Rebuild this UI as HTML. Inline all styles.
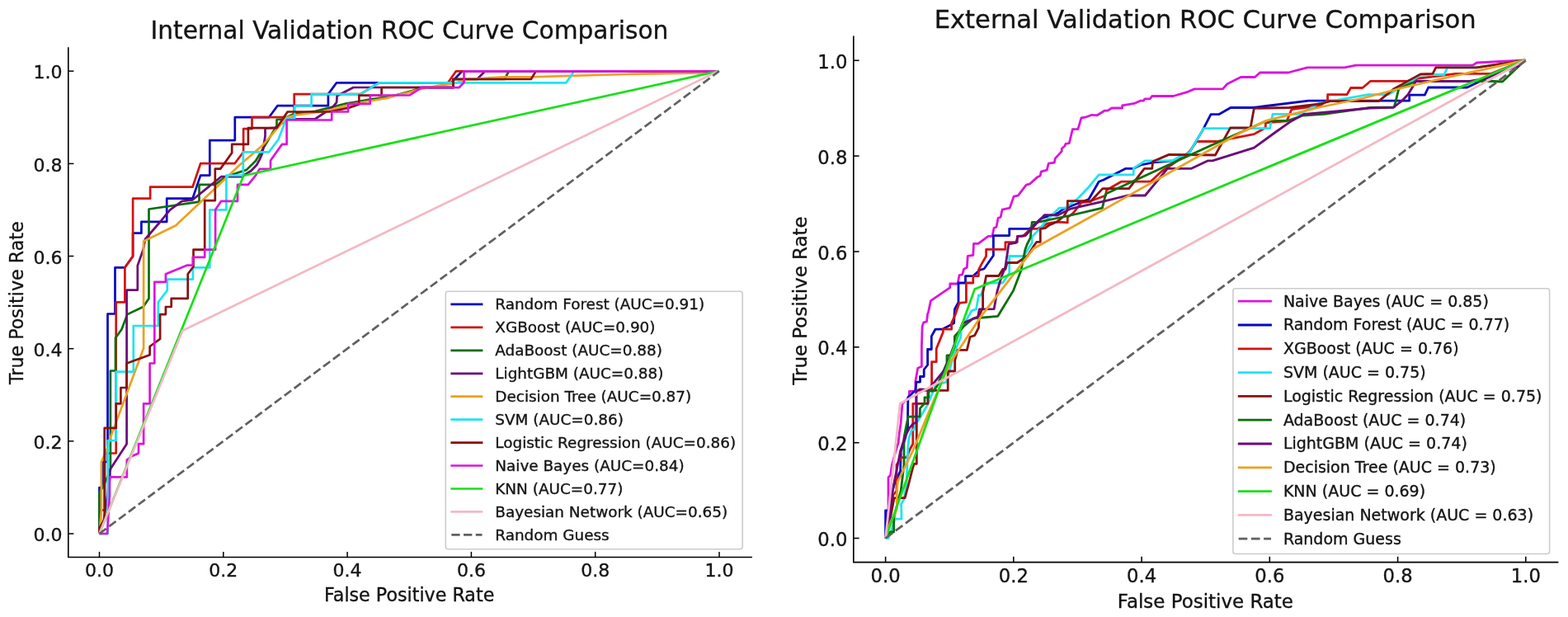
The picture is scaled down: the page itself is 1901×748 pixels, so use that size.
<!DOCTYPE html>
<html><head><meta charset="utf-8"><title>ROC Curve Comparison</title>
<style>html,body{margin:0;padding:0;background:#fff;overflow:hidden}svg{display:block}
text{font-family:"DejaVu Sans","Liberation Sans",sans-serif;fill:#141414;stroke:#141414;stroke-width:0.35px}</style></head>
<body><svg width="1901" height="748" viewBox="0 0 1901 748">
<rect width="1901" height="748" fill="#fff"/>
<path d="M120.5 647.0 L120.5 591.0 L124.5 591.0 L124.5 560.0 L130.5 560.0 L130.5 380.5 L139.5 380.5 L139.5 324.3 L151.4 324.3 L161.1 310.7 L161.1 282.7 L171.4 282.7 L171.4 268.8 L202.2 268.8 L202.2 240.7 L233.5 240.7 L243.1 212.6 L254.3 212.6 L254.3 170.1 L284.8 170.1 L284.8 142.2 L326.1 142.2 L336.4 128.2 L397.9 128.2 L397.9 114.1 L408.1 100.3 L547.0 100.3 L560.2 86.4 L870.5 86.4" fill="none" stroke="#0606c4" stroke-width="2.70" stroke-linejoin="round" stroke-linecap="butt"/>
<path d="M120.5 647.0 L122.0 647.0 L122.0 618.5 L127.0 618.5 L127.0 549.5 L140.7 549.5 L140.7 366.4 L151.4 366.4 L151.4 324.3 L161.1 310.7 L161.1 240.7 L182.1 240.7 L182.1 226.7 L233.5 226.7 L243.1 198.2 L284.5 198.2 L295.1 184.3 L295.1 156.2 L305.5 156.2 L305.5 142.2 L343.9 142.2 L356.7 142.2 L356.7 114.1 L437.0 114.1 L459.4 100.3 L543.1 100.3 L552.7 86.4 L870.5 86.4" fill="none" stroke="#d41212" stroke-width="2.70" stroke-linejoin="round" stroke-linecap="butt"/>
<path d="M120.5 647.0 L120.5 596.8 L124.5 591.0 L133.9 570.0 L133.9 449.5 L140.0 449.5 L140.0 409.8 L147.5 399.3 L154.3 381.1 L173.6 372.0 L180.5 361.8 L180.5 253.5 L241.5 244.7 L241.5 223.8 L260.8 223.8 L273.6 214.2 L298.9 205.9 L310.0 195.0 L335.5 152.5 L335.5 145.0 L343.0 144.5 L356.8 137.7 L382.4 134.9 L420.3 125.3 L434.8 123.0 L448.1 120.5 L469.5 117.5 L480.0 115.2 L500.0 110.0 L511.0 106.2 L549.5 106.2 L549.5 96.0 L611.6 96.0 L617.0 86.4 L870.5 86.4" fill="none" stroke="#0a6e0a" stroke-width="2.70" stroke-linejoin="round" stroke-linecap="butt"/>
<path d="M120.5 647.0 L126.0 630.0 L133.4 577.6 L133.4 569.3 L153.6 538.2 L153.6 351.6 L166.8 351.6 L166.8 322.0 L173.6 302.7 L176.0 290.0 L193.3 270.0 L206.2 254.3 L220.6 243.9 L233.5 242.3 L246.3 231.9 L268.0 214.2 L292.9 214.2 L304.5 207.0 L311.2 200.0 L314.8 193.4 L318.2 185.5 L321.5 165.0 L321.5 155.5 L334.1 154.8 L348.9 144.5 L382.4 144.0 L402.7 130.6 L408.1 124.2 L408.6 116.2 L428.4 106.0 L549.5 106.0 L549.5 96.0 L578.4 96.0 L588.0 86.4 L870.5 86.4" fill="none" stroke="#6a0a78" stroke-width="2.70" stroke-linejoin="round" stroke-linecap="butt"/>
<path d="M120.5 647.0 L122.9 620.0 L122.9 560.0 L130.4 542.7 L132.7 533.6 L174.1 422.3 L174.1 292.5 L213.4 273.2 L216.6 270.0 L246.4 242.0 L290.6 200.0 L318.2 176.4 L347.7 142.3 L358.9 139.5 L394.2 134.9 L426.3 126.4 L448.1 122.5 L469.5 118.9 L480.2 115.6 L495.3 112.2 L507.9 108.4 L530.0 104.0 L548.9 101.5 L565.0 97.0 L590.0 94.5 L610.0 93.3 L649.7 93.1 L760.0 90.0 L855.0 88.4 L870.5 86.4" fill="none" stroke="#eea020" stroke-width="2.70" stroke-linejoin="round" stroke-linecap="butt"/>
<path d="M120.5 647.0 L130.7 647.0 L130.7 534.0 L140.7 534.0 L140.7 450.7 L161.8 450.7 L161.8 395.0 L191.8 395.0 L191.8 366.4 L202.8 352.0 L202.8 338.6 L233.9 338.6 L233.9 324.3 L254.3 324.3 L254.3 254.3 L274.4 254.3 L274.4 212.6 L294.8 212.6 L294.8 184.3 L326.1 184.3 L337.4 169.3 L347.6 143.1 L357.3 143.1 L357.3 128.5 L377.6 128.5 L377.6 114.1 L437.0 114.1 L459.4 100.3 L686.5 100.3 L695.8 86.4 L870.5 86.4" fill="none" stroke="#20e4f0" stroke-width="2.70" stroke-linejoin="round" stroke-linecap="butt"/>
<path d="M120.5 647.0 L120.5 640.0 L126.7 630.0 L126.7 518.9 L140.7 518.9 L140.7 489.3 L146.4 489.3 L146.4 470.0 L153.6 470.0 L153.6 440.5 L181.6 430.2 L181.6 420.0 L194.1 410.9 L194.1 381.1 L200.9 381.1 L200.9 372.0 L207.7 372.0 L207.7 361.8 L227.7 361.8 L227.7 332.3 L234.5 323.2 L234.5 302.7 L248.2 302.7 L248.2 243.1 L260.8 243.1 L260.8 204.6 L267.2 204.6 L271.9 198.3 L281.2 185.2 L281.2 174.9 L300.9 174.9 L300.9 155.2 L335.5 155.1 L348.6 135.5 L399.5 135.5 L423.0 130.6 L435.3 126.4 L435.3 115.7 L462.6 115.7 L462.6 106.0 L549.5 106.0 L549.5 96.0 L643.8 96.0 L649.7 86.4 L870.5 86.4" fill="none" stroke="#8a1010" stroke-width="2.70" stroke-linejoin="round" stroke-linecap="butt"/>
<path d="M120.5 647.0 L130.0 647.0 L133.0 600.0 L133.0 578.4 L153.8 578.4 L153.8 557.6 L160.0 553.0 L168.0 549.5 L168.0 538.2 L174.1 538.2 L174.1 489.3 L181.6 489.3 L181.6 440.5 L187.3 440.5 L187.3 341.8 L200.9 341.8 L200.9 332.3 L227.1 321.6 L233.7 321.6 L233.7 311.8 L248.2 311.8 L248.2 302.7 L261.1 302.7 L261.1 254.3 L268.0 243.9 L288.0 243.9 L288.0 223.8 L300.9 223.8 L310.0 212.6 L314.8 204.8 L328.0 204.8 L328.0 194.5 L342.0 174.9 L347.6 174.9 L347.6 145.5 L402.2 145.5 L402.2 135.5 L422.0 135.5 L422.0 125.8 L448.7 125.8 L448.7 115.5 L496.6 115.3 L511.0 106.2 L556.5 106.2 L562.5 100.0 L562.5 86.4 L870.5 86.4" fill="none" stroke="#dc14dc" stroke-width="2.70" stroke-linejoin="round" stroke-linecap="butt"/>
<path d="M120.5 647.0 L295.3 213.0 L870.5 86.4" fill="none" stroke="#18e018" stroke-width="2.70" stroke-linejoin="round" stroke-linecap="butt"/>
<path d="M120.5 647.0 L221.4 400.7 L870.5 86.4" fill="none" stroke="#f4b8c4" stroke-width="2.70" stroke-linejoin="round" stroke-linecap="butt"/>
<line x1="120.5" y1="647.0" x2="872.0" y2="86.2" stroke="#606060" stroke-width="2.70" stroke-dasharray="10.28 4.45"/>
<rect x="540.3" y="353.2" width="359.9" height="312.5" rx="3" ry="3" fill="#fff" fill-opacity="0.8" stroke="#cccccc" stroke-width="1.6"/>
<line x1="546.4" y1="368.9" x2="585.4" y2="368.9" stroke="#0606c4" stroke-width="2.70" stroke-linecap="butt"/>
<text x="600.3" y="375.1" font-size="18.40">Random Forest (AUC=0.91)</text>
<line x1="546.4" y1="396.8" x2="585.4" y2="396.8" stroke="#d41212" stroke-width="2.70" stroke-linecap="butt"/>
<text x="600.3" y="403.0" font-size="18.40">XGBoost (AUC=0.90)</text>
<line x1="546.4" y1="424.8" x2="585.4" y2="424.8" stroke="#0a6e0a" stroke-width="2.70" stroke-linecap="butt"/>
<text x="600.3" y="431.0" font-size="18.40">AdaBoost (AUC=0.88)</text>
<line x1="546.4" y1="452.8" x2="585.4" y2="452.8" stroke="#6a0a78" stroke-width="2.70" stroke-linecap="butt"/>
<text x="600.3" y="458.9" font-size="18.40">LightGBM (AUC=0.88)</text>
<line x1="546.4" y1="480.7" x2="585.4" y2="480.7" stroke="#eea020" stroke-width="2.70" stroke-linecap="butt"/>
<text x="600.3" y="486.9" font-size="18.40">Decision Tree (AUC=0.87)</text>
<line x1="546.4" y1="508.6" x2="585.4" y2="508.6" stroke="#20e4f0" stroke-width="2.70" stroke-linecap="butt"/>
<text x="600.3" y="514.9" font-size="18.40">SVM (AUC=0.86)</text>
<line x1="546.4" y1="536.6" x2="585.4" y2="536.6" stroke="#8a1010" stroke-width="2.70" stroke-linecap="butt"/>
<text x="600.3" y="542.8" font-size="18.40">Logistic Regression (AUC=0.86)</text>
<line x1="546.4" y1="564.5" x2="585.4" y2="564.5" stroke="#dc14dc" stroke-width="2.70" stroke-linecap="butt"/>
<text x="600.3" y="570.8" font-size="18.40">Naive Bayes (AUC=0.84)</text>
<line x1="546.4" y1="592.5" x2="585.4" y2="592.5" stroke="#18e018" stroke-width="2.70" stroke-linecap="butt"/>
<text x="600.3" y="598.7" font-size="18.40">KNN (AUC=0.77)</text>
<line x1="546.4" y1="620.4" x2="585.4" y2="620.4" stroke="#f4b8c4" stroke-width="2.70" stroke-linecap="butt"/>
<text x="600.3" y="626.6" font-size="18.40">Bayesian Network (AUC=0.65)</text>
<line x1="547.3" y1="648.4" x2="584.5" y2="648.4" stroke="#606060" stroke-width="2.70" stroke-dasharray="10.28 4.45"/>
<text x="600.3" y="654.6" font-size="18.40">Random Guess</text>
<path d="M82.8 58.0V675.5H911.1" fill="none" stroke="#000" stroke-width="1.60" stroke-linecap="square"/>
<line x1="120.5" y1="675.5" x2="120.5" y2="668.9" stroke="#000" stroke-width="1.50"/>
<line x1="82.8" y1="647.0" x2="89.4" y2="647.0" stroke="#000" stroke-width="1.50"/>
<text x="120.5" y="698.7" font-size="22.00" text-anchor="middle">0.0</text>
<text x="75.6" y="656.2" font-size="22.00" text-anchor="end">0.0</text>
<line x1="270.8" y1="675.5" x2="270.8" y2="668.9" stroke="#000" stroke-width="1.50"/>
<line x1="82.8" y1="534.8" x2="89.4" y2="534.8" stroke="#000" stroke-width="1.50"/>
<text x="270.8" y="698.7" font-size="22.00" text-anchor="middle">0.2</text>
<text x="75.6" y="544.0" font-size="22.00" text-anchor="end">0.2</text>
<line x1="421.1" y1="675.5" x2="421.1" y2="668.9" stroke="#000" stroke-width="1.50"/>
<line x1="82.8" y1="422.7" x2="89.4" y2="422.7" stroke="#000" stroke-width="1.50"/>
<text x="421.1" y="698.7" font-size="22.00" text-anchor="middle">0.4</text>
<text x="75.6" y="431.9" font-size="22.00" text-anchor="end">0.4</text>
<line x1="571.4" y1="675.5" x2="571.4" y2="668.9" stroke="#000" stroke-width="1.50"/>
<line x1="82.8" y1="310.5" x2="89.4" y2="310.5" stroke="#000" stroke-width="1.50"/>
<text x="571.4" y="698.7" font-size="22.00" text-anchor="middle">0.6</text>
<text x="75.6" y="319.7" font-size="22.00" text-anchor="end">0.6</text>
<line x1="721.7" y1="675.5" x2="721.7" y2="668.9" stroke="#000" stroke-width="1.50"/>
<line x1="82.8" y1="198.4" x2="89.4" y2="198.4" stroke="#000" stroke-width="1.50"/>
<text x="721.7" y="698.7" font-size="22.00" text-anchor="middle">0.8</text>
<text x="75.6" y="207.6" font-size="22.00" text-anchor="end">0.8</text>
<line x1="872.0" y1="675.5" x2="872.0" y2="668.9" stroke="#000" stroke-width="1.50"/>
<line x1="82.8" y1="86.2" x2="89.4" y2="86.2" stroke="#000" stroke-width="1.50"/>
<text x="872.0" y="698.7" font-size="22.00" text-anchor="middle">1.0</text>
<text x="75.6" y="95.4" font-size="22.00" text-anchor="end">1.0</text>
<text x="496.4" y="47.3" font-size="29.65" text-anchor="middle">Internal Validation ROC Curve Comparison</text>
<text x="496.2" y="728.6" font-size="22.20" text-anchor="middle">False Positive Rate</text>
<text transform="translate(27.6 367.2) rotate(-90)" font-size="22.20" text-anchor="middle">True Positive Rate</text>
<path d="M1073.6 652.5 L1075.0 640.0 L1077.0 615.0 L1077.0 578.8 L1079.5 576.2 L1081.4 563.5 L1085.0 550.0 L1089.1 536.8 L1090.3 525.4 L1092.2 512.7 L1092.9 502.5 L1094.0 489.3 L1102.0 482.0 L1102.4 474.3 L1109.9 474.3 L1109.9 462.1 L1112.7 446.2 L1117.4 444.3 L1117.4 420.0 L1118.1 395.4 L1119.9 390.8 L1123.5 389.8 L1124.6 380.5 L1125.5 378.6 L1128.4 364.6 L1151.8 348.7 L1151.8 344.0 L1161.1 344.0 L1163.0 333.7 L1166.7 332.8 L1168.6 326.2 L1172.3 324.3 L1173.3 310.3 L1179.8 309.4 L1180.5 295.3 L1186.0 295.3 L1198.1 286.3 L1203.0 286.3 L1205.1 276.3 L1208.0 275.3 L1210.1 264.3 L1213.1 263.3 L1215.1 254.2 L1224.1 252.2 L1229.1 238.2 L1234.2 237.2 L1244.2 224.2 L1248.2 223.2 L1257.2 215.1 L1261.2 213.1 L1262.2 208.1 L1269.2 206.1 L1271.3 198.1 L1278.3 197.1 L1279.3 192.1 L1287.2 183.4 L1287.2 180.2 L1290.9 177.0 L1292.0 174.3 L1296.3 173.7 L1300.4 156.7 L1306.9 156.7 L1310.9 143.0 L1315.7 142.2 L1323.7 139.3 L1330.1 139.8 L1339.0 134.2 L1343.0 134.2 L1347.8 131.0 L1360.6 131.0 L1360.6 127.8 L1375.1 125.4 L1382.3 122.2 L1386.3 122.2 L1387.9 119.8 L1394.3 119.8 L1396.7 116.5 L1422.4 116.5 L1440.0 111.3 L1448.2 107.9 L1482.4 107.9 L1487.9 101.7 L1504.3 93.5 L1521.4 93.5 L1527.6 88.0 L1561.8 88.0 L1585.0 81.9 L1630.1 81.9 L1643.8 79.2 L1785.2 79.2 L1790.5 76.0 L1849.3 72.8" fill="none" stroke="#dc14dc" stroke-width="2.79" stroke-linejoin="round" stroke-linecap="butt"/>
<path d="M1073.6 652.5 L1073.6 619.0 L1077.0 619.0 L1080.0 612.0 L1081.0 600.0 L1084.0 587.7 L1091.6 571.1 L1092.2 547.0 L1097.3 531.8 L1100.5 519.1 L1100.8 481.8 L1110.0 473.0 L1110.9 463.1 L1115.5 463.1 L1115.5 456.5 L1120.2 456.5 L1120.2 448.0 L1124.6 442.5 L1124.6 423.5 L1129.3 423.5 L1129.3 407.6 L1134.0 399.2 L1142.4 399.2 L1156.6 391.7 L1157.4 374.9 L1162.0 366.4 L1162.0 343.0 L1170.5 343.0 L1170.5 334.6 L1179.8 334.6 L1188.2 327.1 L1193.0 326.0 L1204.4 309.7 L1204.4 285.6 L1223.7 285.6 L1223.7 277.3 L1248.4 277.3 L1262.0 265.0 L1283.0 258.0 L1286.8 255.0 L1290.0 253.0 L1320.0 241.5 L1332.2 220.2 L1338.0 218.0 L1364.9 204.3 L1374.3 204.3 L1383.0 200.0 L1398.6 196.8 L1422.0 194.9 L1430.4 190.2 L1441.6 185.6 L1458.2 157.6 L1468.0 138.7 L1477.6 138.7 L1492.0 130.5 L1519.3 130.5 L1535.0 128.5 L1586.4 122.2 L1708.7 122.2 L1708.7 115.1 L1727.4 115.1 L1731.7 106.0 L1778.7 106.0 L1849.3 72.8" fill="none" stroke="#0606c4" stroke-width="2.79" stroke-linejoin="round" stroke-linecap="butt"/>
<path d="M1073.6 652.5 L1076.0 640.0 L1079.0 625.0 L1080.0 612.0 L1083.0 600.0 L1087.0 595.0 L1087.0 563.5 L1092.9 554.6 L1099.2 554.6 L1103.0 545.0 L1106.8 538.0 L1106.8 489.3 L1111.0 489.3 L1111.0 473.4 L1129.6 473.4 L1129.6 438.7 L1135.2 438.7 L1135.2 422.8 L1143.3 402.9 L1143.3 399.2 L1153.6 399.2 L1153.6 391.7 L1158.0 382.0 L1163.0 367.4 L1171.4 366.4 L1171.4 343.0 L1179.8 343.0 L1179.8 334.6 L1186.4 334.6 L1186.4 327.1 L1190.0 320.1 L1195.6 310.5 L1195.6 302.4 L1218.9 302.4 L1218.9 293.6 L1233.3 293.6 L1233.3 286.4 L1240.2 286.3 L1249.4 277.4 L1258.0 277.4 L1270.0 270.9 L1282.1 269.0 L1294.3 269.9 L1294.3 263.4 L1300.8 258.7 L1311.1 245.6 L1320.0 244.5 L1340.6 237.0 L1341.5 230.5 L1359.3 220.2 L1394.9 220.2 L1408.0 208.0 L1420.0 200.0 L1441.0 185.0 L1451.0 171.5 L1475.0 171.5 L1520.4 162.6 L1534.3 154.8 L1534.4 148.9 L1560.0 146.9 L1565.9 132.5 L1600.0 128.0 L1609.6 122.2 L1609.6 114.7 L1632.9 114.7 L1637.7 106.5 L1652.0 106.5 L1661.6 98.3 L1706.0 98.3 L1720.0 95.0 L1764.8 89.4 L1807.6 89.4 L1849.3 72.8" fill="none" stroke="#d41212" stroke-width="2.79" stroke-linejoin="round" stroke-linecap="butt"/>
<path d="M1073.6 652.5 L1077.0 652.5 L1080.0 645.0 L1085.1 629.1 L1093.1 629.1 L1092.6 611.1 L1096.1 605.1 L1099.1 585.0 L1100.0 560.0 L1100.6 545.0 L1101.8 531.8 L1105.2 521.1 L1108.0 521.1 L1110.0 515.0 L1125.0 490.0 L1134.3 466.8 L1147.4 463.1 L1154.9 435.0 L1160.0 420.0 L1164.9 408.5 L1165.0 401.0 L1170.5 389.8 L1178.0 376.7 L1183.6 374.9 L1186.4 358.0 L1189.2 358.0 L1194.8 343.0 L1215.7 343.0 L1223.7 331.3 L1223.7 310.5 L1241.3 310.5 L1251.2 294.3 L1251.2 287.0 L1259.6 278.4 L1270.0 266.0 L1284.0 252.2 L1290.5 252.2 L1293.0 251.0 L1307.4 240.0 L1320.0 226.7 L1332.2 211.8 L1374.3 211.8 L1374.3 204.0 L1388.3 194.9 L1422.0 194.9 L1430.0 190.0 L1441.6 185.6 L1459.4 155.6 L1539.5 155.6 L1543.0 138.3 L1576.0 138.3 L1600.0 125.0 L1658.9 114.7 L1683.5 114.7 L1690.0 110.5 L1700.0 104.5 L1722.1 91.0 L1738.1 90.5 L1750.9 90.5 L1754.7 81.9 L1790.5 81.9 L1849.3 72.8" fill="none" stroke="#20e4f0" stroke-width="2.79" stroke-linejoin="round" stroke-linecap="butt"/>
<path d="M1073.6 652.5 L1078.0 635.0 L1081.0 620.0 L1084.1 603.6 L1097.1 603.6 L1101.6 587.0 L1105.6 571.1 L1108.1 562.3 L1111.3 562.3 L1111.3 489.3 L1124.9 489.3 L1124.9 473.4 L1149.2 473.4 L1149.2 450.0 L1157.7 450.0 L1157.7 437.0 L1161.1 424.4 L1172.3 424.4 L1176.1 408.5 L1181.7 406.7 L1186.4 397.3 L1187.3 382.3 L1191.6 373.0 L1191.6 355.0 L1195.6 334.5 L1210.8 334.5 L1215.7 326.5 L1219.0 326.5 L1221.0 318.5 L1233.3 318.5 L1246.1 309.7 L1252.2 299.9 L1256.8 293.3 L1261.3 293.3 L1261.3 277.4 L1267.0 276.5 L1272.0 273.0 L1281.2 269.0 L1290.0 262.0 L1294.3 254.0 L1294.3 243.7 L1318.6 243.7 L1322.0 244.5 L1336.8 228.6 L1368.7 228.6 L1387.4 204.3 L1396.7 204.3 L1397.7 195.8 L1417.3 187.4 L1473.4 188.0 L1491.7 154.8 L1516.1 154.8 L1520.4 131.3 L1563.1 130.5 L1600.0 126.0 L1612.6 122.6 L1671.5 122.6 L1690.0 107.6 L1722.1 89.9 L1737.0 89.4 L1740.8 81.9 L1790.5 81.9 L1849.3 72.8" fill="none" stroke="#8a1010" stroke-width="2.79" stroke-linejoin="round" stroke-linecap="butt"/>
<path d="M1073.6 652.5 L1079.0 645.0 L1083.6 645.0 L1083.6 629.0 L1088.0 610.0 L1092.2 595.0 L1096.0 563.5 L1096.0 530.5 L1098.0 520.0 L1101.1 505.1 L1115.1 505.1 L1115.5 494.9 L1121.0 489.0 L1121.0 481.8 L1125.8 481.8 L1126.0 474.0 L1132.0 474.0 L1136.0 468.0 L1148.0 440.0 L1148.0 431.0 L1153.0 431.0 L1157.4 420.0 L1157.4 407.6 L1168.6 395.4 L1180.0 386.0 L1209.8 383.3 L1228.5 352.4 L1237.8 328.1 L1242.9 302.4 L1245.3 296.0 L1249.2 288.3 L1251.2 269.3 L1258.2 269.3 L1296.1 261.5 L1336.4 252.2 L1338.2 244.7 L1340.6 235.1 L1410.0 203.0 L1470.0 175.6 L1534.3 147.0 L1562.1 146.1 L1579.5 140.0 L1605.6 138.3 L1661.2 130.4 L1690.3 129.8 L1695.8 107.9 L1698.6 106.0 L1716.7 98.5 L1780.9 98.5 L1809.7 98.5 L1821.5 99.0 L1849.3 72.8" fill="none" stroke="#0a6e0a" stroke-width="2.79" stroke-linejoin="round" stroke-linecap="butt"/>
<path d="M1073.6 652.5 L1076.0 645.0 L1079.0 625.0 L1082.1 595.0 L1091.6 547.0 L1096.7 530.5 L1102.4 519.1 L1106.8 514.0 L1110.7 512.0 L1110.9 474.3 L1115.0 472.0 L1125.4 472.3 L1145.4 448.2 L1152.0 431.0 L1166.8 392.0 L1185.6 384.0 L1187.3 374.9 L1205.2 374.6 L1209.0 353.0 L1214.0 336.0 L1218.9 323.3 L1222.9 296.0 L1231.7 294.4 L1234.1 286.4 L1240.0 285.8 L1243.0 285.8 L1266.2 260.6 L1282.1 261.0 L1298.0 253.1 L1320.0 248.2 L1340.0 243.7 L1366.8 237.0 L1388.3 237.0 L1415.4 204.3 L1444.4 204.3 L1464.1 194.9 L1470.0 194.8 L1520.4 179.1 L1546.7 160.0 L1563.9 147.8 L1581.3 138.3 L1620.0 135.0 L1661.0 131.0 L1689.0 130.4 L1700.0 122.0 L1707.1 114.5 L1716.7 98.5 L1780.9 98.5 L1800.0 95.0 L1841.8 79.2 L1849.3 72.8" fill="none" stroke="#6a0a78" stroke-width="2.79" stroke-linejoin="round" stroke-linecap="butt"/>
<path d="M1073.6 652.5 L1080.0 632.0 L1085.0 623.0 L1087.5 616.0 L1087.3 600.0 L1088.3 584.0 L1107.4 545.0 L1125.9 500.0 L1151.8 440.0 L1190.0 382.6 L1253.1 301.3 L1340.0 253.1 L1480.0 174.3 L1505.7 160.0 L1535.8 146.2 L1600.0 130.0 L1652.5 119.0 L1700.0 106.5 L1743.5 96.4 L1797.0 84.6 L1849.3 72.8" fill="none" stroke="#eea020" stroke-width="2.79" stroke-linejoin="round" stroke-linecap="butt"/>
<path d="M1073.6 652.5 L1181.7 350.5 L1849.3 72.8" fill="none" stroke="#18e018" stroke-width="2.79" stroke-linejoin="round" stroke-linecap="butt"/>
<path d="M1073.6 652.5 L1091.2 489.3 L1849.3 72.8" fill="none" stroke="#f4b8c4" stroke-width="2.79" stroke-linejoin="round" stroke-linecap="butt"/>
<line x1="1073.6" y1="652.5" x2="1849.8" y2="73.3" stroke="#606060" stroke-width="2.79" stroke-dasharray="10.62 4.60"/>
<rect x="1494.9" y="349.8" width="383.7" height="321.7" rx="3" ry="3" fill="#fff" fill-opacity="0.8" stroke="#cccccc" stroke-width="1.6"/>
<line x1="1500.8" y1="365.2" x2="1541.9" y2="365.2" stroke="#dc14dc" stroke-width="2.79" stroke-linecap="butt"/>
<text x="1555.9" y="371.6" font-size="19.00">Naive Bayes (AUC = 0.85)</text>
<line x1="1500.8" y1="394.0" x2="1541.9" y2="394.0" stroke="#0606c4" stroke-width="2.79" stroke-linecap="butt"/>
<text x="1555.9" y="400.4" font-size="19.00">Random Forest (AUC = 0.77)</text>
<line x1="1500.8" y1="422.8" x2="1541.9" y2="422.8" stroke="#d41212" stroke-width="2.79" stroke-linecap="butt"/>
<text x="1555.9" y="429.2" font-size="19.00">XGBoost (AUC = 0.76)</text>
<line x1="1500.8" y1="451.6" x2="1541.9" y2="451.6" stroke="#20e4f0" stroke-width="2.79" stroke-linecap="butt"/>
<text x="1555.9" y="458.0" font-size="19.00">SVM (AUC = 0.75)</text>
<line x1="1500.8" y1="480.4" x2="1541.9" y2="480.4" stroke="#8a1010" stroke-width="2.79" stroke-linecap="butt"/>
<text x="1555.9" y="486.8" font-size="19.00">Logistic Regression (AUC = 0.75)</text>
<line x1="1500.8" y1="509.2" x2="1541.9" y2="509.2" stroke="#0a6e0a" stroke-width="2.79" stroke-linecap="butt"/>
<text x="1555.9" y="515.6" font-size="19.00">AdaBoost (AUC = 0.74)</text>
<line x1="1500.8" y1="538.0" x2="1541.9" y2="538.0" stroke="#6a0a78" stroke-width="2.79" stroke-linecap="butt"/>
<text x="1555.9" y="544.4" font-size="19.00">LightGBM (AUC = 0.74)</text>
<line x1="1500.8" y1="566.8" x2="1541.9" y2="566.8" stroke="#eea020" stroke-width="2.79" stroke-linecap="butt"/>
<text x="1555.9" y="573.2" font-size="19.00">Decision Tree (AUC = 0.73)</text>
<line x1="1500.8" y1="595.6" x2="1541.9" y2="595.6" stroke="#18e018" stroke-width="2.79" stroke-linecap="butt"/>
<text x="1555.9" y="602.0" font-size="19.00">KNN (AUC = 0.69)</text>
<line x1="1500.8" y1="624.4" x2="1541.9" y2="624.4" stroke="#f4b8c4" stroke-width="2.79" stroke-linecap="butt"/>
<text x="1555.9" y="630.8" font-size="19.00">Bayesian Network (AUC = 0.63)</text>
<line x1="1501.7" y1="653.2" x2="1541.0" y2="653.2" stroke="#606060" stroke-width="2.79" stroke-dasharray="10.62 4.60"/>
<text x="1555.9" y="659.6" font-size="19.00">Random Guess</text>
<path d="M1034.8 44.3V681.6H1888.6" fill="none" stroke="#000" stroke-width="1.65" stroke-linecap="square"/>
<line x1="1073.6" y1="681.6" x2="1073.6" y2="674.8" stroke="#000" stroke-width="1.55"/>
<line x1="1034.8" y1="652.5" x2="1041.6" y2="652.5" stroke="#000" stroke-width="1.55"/>
<text x="1073.6" y="705.6" font-size="22.70" text-anchor="middle">0.0</text>
<text x="1027.4" y="662.0" font-size="22.70" text-anchor="end">0.0</text>
<line x1="1228.8" y1="681.6" x2="1228.8" y2="674.8" stroke="#000" stroke-width="1.55"/>
<line x1="1034.8" y1="536.7" x2="1041.6" y2="536.7" stroke="#000" stroke-width="1.55"/>
<text x="1228.8" y="705.6" font-size="22.70" text-anchor="middle">0.2</text>
<text x="1027.4" y="546.2" font-size="22.70" text-anchor="end">0.2</text>
<line x1="1384.1" y1="681.6" x2="1384.1" y2="674.8" stroke="#000" stroke-width="1.55"/>
<line x1="1034.8" y1="420.8" x2="1041.6" y2="420.8" stroke="#000" stroke-width="1.55"/>
<text x="1384.1" y="705.6" font-size="22.70" text-anchor="middle">0.4</text>
<text x="1027.4" y="430.3" font-size="22.70" text-anchor="end">0.4</text>
<line x1="1539.3" y1="681.6" x2="1539.3" y2="674.8" stroke="#000" stroke-width="1.55"/>
<line x1="1034.8" y1="305.0" x2="1041.6" y2="305.0" stroke="#000" stroke-width="1.55"/>
<text x="1539.3" y="705.6" font-size="22.70" text-anchor="middle">0.6</text>
<text x="1027.4" y="314.5" font-size="22.70" text-anchor="end">0.6</text>
<line x1="1694.6" y1="681.6" x2="1694.6" y2="674.8" stroke="#000" stroke-width="1.55"/>
<line x1="1034.8" y1="189.1" x2="1041.6" y2="189.1" stroke="#000" stroke-width="1.55"/>
<text x="1694.6" y="705.6" font-size="22.70" text-anchor="middle">0.8</text>
<text x="1027.4" y="198.6" font-size="22.70" text-anchor="end">0.8</text>
<line x1="1849.8" y1="681.6" x2="1849.8" y2="674.8" stroke="#000" stroke-width="1.55"/>
<line x1="1034.8" y1="73.3" x2="1041.6" y2="73.3" stroke="#000" stroke-width="1.55"/>
<text x="1849.8" y="705.6" font-size="22.70" text-anchor="middle">1.0</text>
<text x="1027.4" y="82.8" font-size="22.70" text-anchor="end">1.0</text>
<text x="1461.2" y="34.3" font-size="30.60" text-anchor="middle">External Validation ROC Curve Comparison</text>
<text x="1461.4" y="736.5" font-size="22.95" text-anchor="middle">False Positive Rate</text>
<text transform="translate(978.3 364.5) rotate(-90)" font-size="22.95" text-anchor="middle">True Positive Rate</text>
</svg></body></html>
